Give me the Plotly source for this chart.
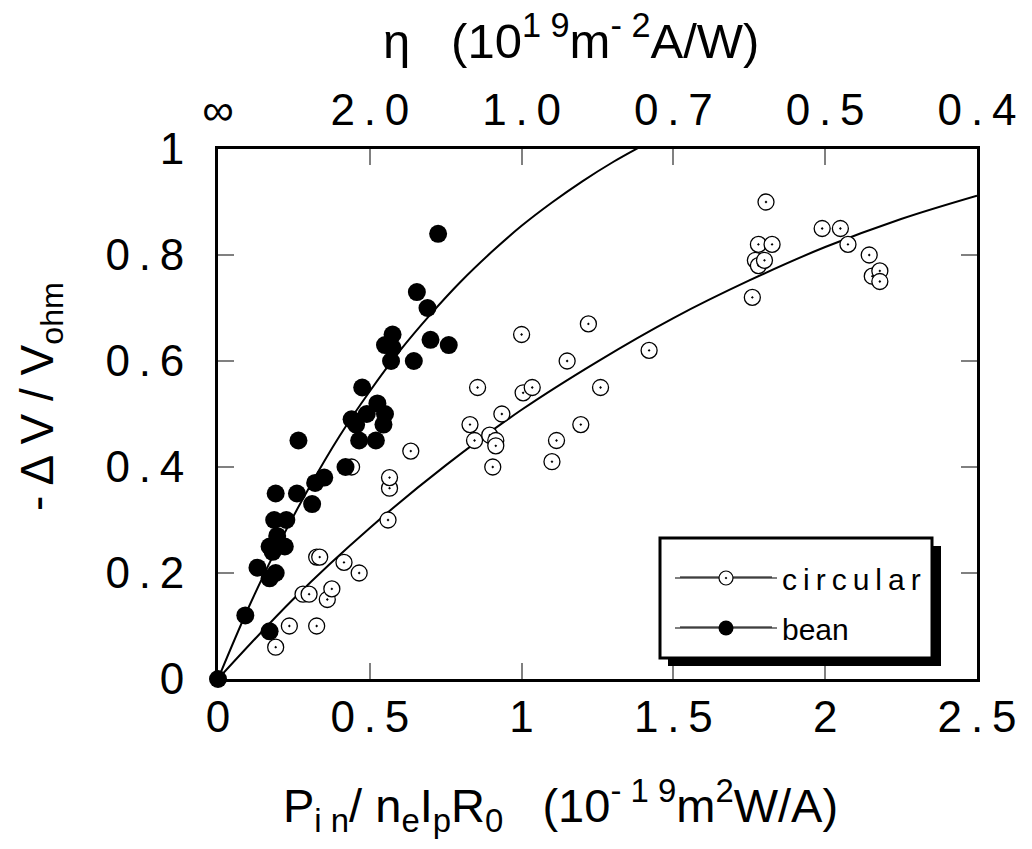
import plotly.graph_objects as go

# ---- data ----
circ_x = [0.19, 0.235, 0.325, 0.28, 0.30, 0.36, 0.375, 0.325, 0.335, 0.415, 0.465,
          0.44, 0.56, 0.565, 0.565, 0.635, 0.83, 0.845, 0.855, 0.895, 0.915, 0.915,
          0.905, 0.935, 1.00, 1.005, 1.035, 1.10, 1.115, 1.15, 1.195, 1.22, 1.26,
          1.42, 1.76, 1.77, 1.78, 1.78, 1.80, 1.805, 1.825, 1.99, 2.05, 2.075,
          2.145, 2.155, 2.18, 2.18]
circ_y = [0.06, 0.10, 0.10, 0.16, 0.16, 0.15, 0.17, 0.23, 0.23, 0.22, 0.20,
          0.40, 0.30, 0.36, 0.38, 0.43, 0.48, 0.45, 0.55, 0.46, 0.45, 0.44,
          0.40, 0.50, 0.65, 0.54, 0.55, 0.41, 0.45, 0.60, 0.48, 0.67, 0.55,
          0.62, 0.72, 0.79, 0.78, 0.82, 0.79, 0.90, 0.82, 0.85, 0.85, 0.82,
          0.80, 0.76, 0.77, 0.75]

bean_x = [0.0, 0.09, 0.17, 0.13, 0.17, 0.19, 0.17, 0.18, 0.22, 0.195, 0.185, 0.225,
          0.19, 0.26, 0.31, 0.32, 0.35, 0.42, 0.265, 0.465, 0.52, 0.44, 0.455,
          0.545, 0.49, 0.55, 0.525, 0.475, 0.57, 0.645, 0.575, 0.55, 0.575, 0.70,
          0.76, 0.69, 0.655, 0.725]
bean_y = [0.0, 0.12, 0.09, 0.21, 0.19, 0.20, 0.25, 0.24, 0.25, 0.27, 0.30, 0.30,
          0.35, 0.35, 0.33, 0.37, 0.38, 0.40, 0.45, 0.45, 0.45, 0.49, 0.48,
          0.48, 0.50, 0.50, 0.52, 0.55, 0.60, 0.60, 0.625, 0.63, 0.65, 0.64,
          0.63, 0.70, 0.73, 0.84]

# fitted curves as drawn in the reference
circ_fit_x = [0, 0.25, 0.5, 0.75, 1.0, 1.25, 1.5, 1.75, 2.0, 2.25, 2.5]
circ_fit_y = [0, 0.152, 0.285, 0.403, 0.508, 0.599, 0.681, 0.752, 0.815, 0.868, 0.912]
bean_fit_x = [0, 0.1, 0.2, 0.3, 0.4, 0.5, 0.6, 0.7, 0.8, 0.9, 1.0, 1.1, 1.2, 1.3, 1.4]
bean_fit_y = [0, 0.134, 0.254, 0.361, 0.458, 0.543, 0.620, 0.688, 0.750, 0.805, 0.855, 0.899, 0.939, 0.975, 1.007]

x_ticks = [0, 0.5, 1, 1.5, 2, 2.5]
x_tick_text = ["0", "0\u2009.\u20095", "1", "1\u2009.\u20095", "2", "2\u2009.\u20095"]
y_ticks = [0, 0.2, 0.4, 0.6, 0.8, 1]
y_tick_text = ["0", "0\u2009.\u20092", "0\u2009.\u20094", "0\u2009.\u20096", "0\u2009.\u20098", "1"]
eta_text = ["\u221e", "2\u2009.\u20090", "1\u2009.\u20090", "0\u2009.\u20097", "0\u2009.\u20095", "0\u2009.\u20094"]

FONT = "Liberation Sans, Arial, sans-serif"

fig = go.Figure()

fig.add_trace(go.Scatter(x=circ_fit_x, y=circ_fit_y, mode="lines", line=dict(color="black", width=2, shape="spline"),
                         showlegend=False, hoverinfo="skip"))
fig.add_trace(go.Scatter(x=bean_fit_x, y=bean_fit_y, mode="lines", line=dict(color="black", width=2, shape="spline"),
                         showlegend=False, hoverinfo="skip"))
fig.add_trace(go.Scatter(x=circ_x, y=circ_y, mode="markers",
                         marker=dict(symbol="circle-dot", size=16, color="white", line=dict(color="black", width=1.3)),
                         showlegend=False, cliponaxis=False))
fig.add_trace(go.Scatter(x=bean_x, y=bean_y, mode="markers",
                         marker=dict(symbol="circle", size=18, color="black", line=dict(color="black", width=0)),
                         showlegend=False, cliponaxis=False))

# legend entries (attached to the top eta axis so that it is drawn)
fig.add_trace(go.Scatter(x=[None], y=[None], xaxis="x2", mode="lines+markers",
                         name="c\u2009i\u2009r\u2009c\u2009u\u2009l\u2009a\u2009r",
                         line=dict(color="black", width=1.2), legendgroup="a",
                         marker=dict(symbol="circle-dot", size=14, color="white", line=dict(color="black", width=1.2))))
fig.add_trace(go.Scatter(x=[None], y=[None], xaxis="x2", mode="lines+markers", name="bean",
                         line=dict(color="black", width=1.2), legendgroup="b",
                         marker=dict(symbol="circle", size=15, color="black")))

def px_x(p):
    return (p - 218) / 759.0

def px_y(p):
    return (679 - p) / 530.0

shapes = [
    dict(type="rect", xref="paper", yref="paper", x0=px_x(668), x1=px_x(941), y0=px_y(666), y1=px_y(546),
         fillcolor="black", line=dict(width=0), layer="above"),
    dict(type="rect", xref="paper", yref="paper", x0=px_x(660), x1=px_x(932), y0=px_y(658), y1=px_y(538),
         fillcolor="white", line=dict(color="black", width=3), layer="above"),
    # long legend sample lines
    dict(type="line", xref="paper", yref="paper", x0=px_x(680), x1=px_x(772), y0=px_y(577), y1=px_y(577),
         line=dict(color="black", width=1.2), layer="above"),
    dict(type="line", xref="paper", yref="paper", x0=px_x(680), x1=px_x(772), y0=px_y(627), y1=px_y(627),
         line=dict(color="black", width=1.2), layer="above"),
]

annotations = [
    dict(text="P<sub>i n</sub>/ n<sub>e</sub>I<sub>p</sub>R<sub>0</sub>   (10<sup>- 1 9</sup>m<sup>2</sup>W/A)",
         xref="paper", yref="paper", x=px_x(560), y=px_y(805), xanchor="center", yanchor="middle",
         showarrow=False, font=dict(family=FONT, size=47, color="black")),
    dict(text="η   (10<sup>1 9</sup>m<sup>- 2</sup>A/W)",
         xref="paper", yref="paper", x=px_x(571), y=px_y(37), xanchor="center", yanchor="middle",
         showarrow=False, font=dict(family=FONT, size=49, color="black")),
    dict(text="- Δ V / V<sub>ohm</sub>",
         xref="paper", yref="paper", x=px_x(40), y=px_y(397), xanchor="center", yanchor="middle",
         textangle=-90, showarrow=False, font=dict(family=FONT, size=46, color="black")),
]

fig.update_layout(
    width=1032, height=849,
    margin=dict(l=218, r=55, t=149, b=170),
    paper_bgcolor="white", plot_bgcolor="white",
    font=dict(family=FONT, color="black", size=44),
    showlegend=True,
    legend=dict(x=px_x(670), y=px_y(552), xanchor="left", yanchor="top",
                bgcolor="rgba(0,0,0,0)", borderwidth=0,
                font=dict(family=FONT, size=30, color="black"),
                traceorder="grouped", tracegroupgap=8, itemwidth=102),
    xaxis=dict(range=[0, 2.5], tickvals=x_ticks, ticktext=x_tick_text,
               ticks="inside", ticklen=16, tickcolor="#808080", tickwidth=1.5,
               showline=True, linecolor="black", linewidth=3, mirror="ticks",
               showgrid=False, zeroline=False, ticklabelstandoff=-3,
               tickfont=dict(family=FONT, size=44, color="black")),
    xaxis2=dict(range=[0, 2.5], overlaying="x", side="top", anchor="y", tickvals=x_ticks, ticktext=eta_text,
                ticks="", showline=False, showgrid=False, zeroline=False, ticklabelstandoff=14,
                tickfont=dict(family=FONT, size=44, color="black")),
    yaxis=dict(range=[0, 1], tickvals=y_ticks, ticktext=y_tick_text,
               ticks="inside", ticklen=16, tickcolor="#808080", tickwidth=1.5,
               showline=True, linecolor="black", linewidth=3, mirror="ticks",
               showgrid=False, zeroline=False, ticklabelstandoff=22,
               tickfont=dict(family=FONT, size=44, color="black")),
    shapes=shapes,
    annotations=annotations,
)

fig.write_html("out.html")
